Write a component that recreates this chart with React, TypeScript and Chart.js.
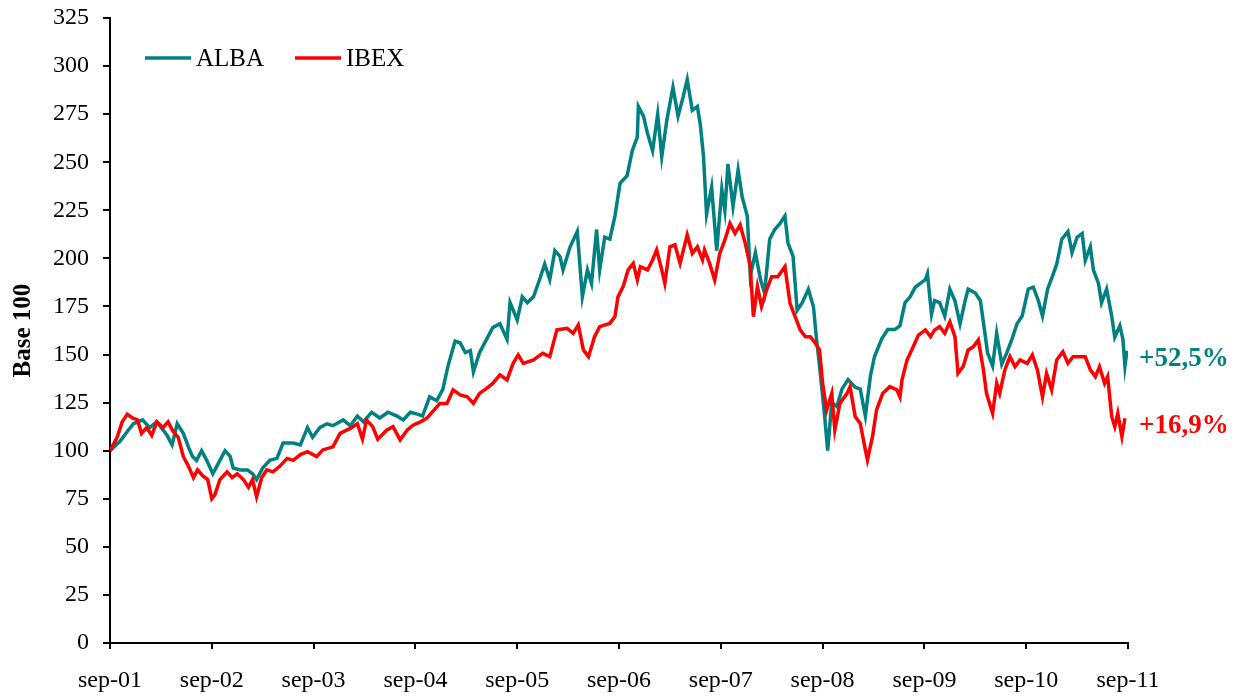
import React, { useEffect, useRef } from 'react';
import { Chart, registerables } from 'chart.js';

Chart.register(...registerables);

// Tick labels for the x axis (one per year, September)
const X_LABELS = ['sep-01', 'sep-02', 'sep-03', 'sep-04', 'sep-05', 'sep-06', 'sep-07', 'sep-08', 'sep-09', 'sep-10', 'sep-11'];
const Y_MIN = 0;
const Y_MAX = 325;
const Y_STEP = 25;
const Y_TITLE = 'Base 100';

const SERIES_NAMES = ['ALBA', 'IBEX'];
const ALBA_COLOR = '#008080';
const IBEX_COLOR = '#FF0000';

// [years since sep-01, index value (base 100)]
const ALBA: Array<[number, number]> = [
  [0.00, 100], [0.10, 105], [0.17, 110], [0.23, 114], [0.32, 116], [0.39, 112], [0.46, 115], [0.56, 108],
  [0.61, 103], [0.66, 114], [0.72, 109], [0.77, 102], [0.81, 97], [0.85, 95], [0.90, 100], [0.95, 95],
  [1.01, 88], [1.08, 95], [1.13, 100], [1.18, 97], [1.21, 91], [1.28, 90], [1.35, 90], [1.40, 88],
  [1.44, 85], [1.50, 91], [1.57, 95], [1.64, 96], [1.70, 104], [1.80, 104], [1.87, 103], [1.94, 112],
  [1.99, 107], [2.06, 112], [2.13, 114], [2.19, 113], [2.29, 116], [2.36, 113], [2.43, 118], [2.49, 115],
  [2.57, 120], [2.65, 117], [2.73, 120], [2.82, 118], [2.88, 116], [2.95, 120], [3.02, 119], [3.07, 118],
  [3.14, 128], [3.21, 126], [3.27, 132], [3.32, 144], [3.39, 157], [3.44, 156], [3.49, 151], [3.54, 152],
  [3.57, 141], [3.63, 151], [3.70, 158], [3.76, 164], [3.83, 166], [3.90, 158], [3.93, 177], [4.00, 168],
  [4.05, 180], [4.10, 177], [4.16, 180], [4.22, 189], [4.27, 197], [4.32, 189], [4.37, 204], [4.42, 201],
  [4.45, 194], [4.52, 206], [4.59, 214], [4.64, 180], [4.69, 194], [4.73, 187], [4.78, 215], [4.81, 194],
  [4.86, 211], [4.91, 210], [4.96, 222], [5.01, 239], [5.08, 243], [5.13, 256], [5.18, 263], [5.19, 279],
  [5.24, 274], [5.28, 265], [5.33, 256], [5.38, 275], [5.42, 253], [5.47, 272], [5.53, 289], [5.58, 274],
  [5.63, 284], [5.67, 293], [5.72, 277], [5.77, 279], [5.80, 269], [5.83, 253], [5.86, 223], [5.91, 237],
  [5.96, 204], [6.01, 236], [6.04, 225], [6.07, 249], [6.12, 227], [6.17, 246], [6.21, 232], [6.26, 222],
  [6.29, 191], [6.34, 203], [6.39, 189], [6.43, 182], [6.48, 210], [6.53, 215], [6.58, 218], [6.63, 222],
  [6.66, 208], [6.71, 201], [6.75, 173], [6.80, 177], [6.86, 184], [6.91, 175], [6.94, 158], [6.97, 144],
  [7.02, 118], [7.05, 100], [7.09, 125], [7.14, 123], [7.19, 132], [7.25, 137], [7.32, 133], [7.37, 132],
  [7.42, 118], [7.47, 139], [7.51, 149], [7.58, 158], [7.64, 163], [7.71, 163], [7.76, 165], [7.81, 177],
  [7.86, 180], [7.91, 185], [7.96, 187], [8.01, 189], [8.03, 192], [8.07, 171], [8.10, 178], [8.15, 177],
  [8.20, 170], [8.25, 184], [8.30, 178], [8.35, 166], [8.40, 178], [8.43, 184], [8.50, 182], [8.55, 178],
  [8.60, 159], [8.62, 151], [8.67, 144], [8.71, 161], [8.76, 145], [8.81, 151], [8.86, 158], [8.91, 166],
  [8.96, 170], [9.02, 184], [9.07, 185], [9.12, 178], [9.16, 170], [9.21, 184], [9.26, 191], [9.30, 197],
  [9.35, 210], [9.41, 214], [9.45, 203], [9.50, 211], [9.55, 213], [9.58, 199], [9.63, 206], [9.66, 194],
  [9.71, 187], [9.74, 177], [9.79, 184], [9.84, 170], [9.87, 159], [9.92, 165], [9.95, 158], [9.97, 144],
  [9.99, 152],
];

const IBEX: Array<[number, number]> = [
  [0.00, 100], [0.07, 107], [0.12, 115], [0.17, 119], [0.22, 117], [0.27, 116], [0.31, 109], [0.36, 112],
  [0.41, 108], [0.46, 115], [0.52, 112], [0.57, 115], [0.62, 110], [0.67, 107], [0.72, 97], [0.77, 92],
  [0.82, 86], [0.86, 90], [0.91, 87], [0.96, 85], [1.00, 75], [1.03, 77], [1.08, 85], [1.15, 89],
  [1.20, 86], [1.25, 88], [1.31, 85], [1.36, 81], [1.40, 85], [1.44, 76], [1.49, 86], [1.54, 90],
  [1.60, 89], [1.67, 92], [1.74, 96], [1.80, 95], [1.87, 98], [1.94, 99.5], [2.03, 96.9], [2.09, 100.4],
  [2.19, 102], [2.26, 109], [2.36, 111.6], [2.43, 114], [2.48, 106], [2.52, 116], [2.58, 112.5], [2.63, 106],
  [2.72, 110.8], [2.78, 112.5], [2.85, 105.6], [2.92, 110.8], [2.98, 113.4], [3.05, 115], [3.11, 116.8], [3.17, 120.3],
  [3.24, 124.6], [3.31, 124.6], [3.37, 131.6], [3.44, 129], [3.51, 128], [3.57, 124.6], [3.63, 129.8], [3.70, 132.4],
  [3.76, 135], [3.83, 139.4], [3.90, 136.8], [3.96, 145.4], [4.01, 149.8], [4.06, 145.4], [4.16, 147.2], [4.25, 150.6],
  [4.32, 148.9], [4.39, 162.8], [4.49, 163.6], [4.55, 161], [4.60, 165.4], [4.65, 152.4], [4.70, 148.9], [4.76, 159.3],
  [4.81, 164.5], [4.91, 166.2], [4.96, 169.7], [4.99, 180], [5.04, 185.3], [5.09, 194], [5.14, 197.4], [5.18, 188.8],
  [5.21, 195.7], [5.28, 194], [5.33, 199.2], [5.37, 204.4], [5.42, 194], [5.45, 187], [5.50, 206], [5.55, 207],
  [5.60, 197.4], [5.67, 212.2], [5.72, 202.6], [5.77, 206], [5.82, 199.2], [5.84, 204.4], [5.89, 197.4], [5.94, 188.8],
  [5.99, 202.6], [6.04, 209.6], [6.09, 218.2], [6.14, 213], [6.19, 217.4], [6.24, 207.8], [6.29, 195.7], [6.32, 169.7],
  [6.36, 185.3], [6.40, 175], [6.45, 183.6], [6.50, 190.5], [6.56, 190.5], [6.63, 195.7], [6.68, 176.6], [6.73, 169.7],
  [6.78, 162.8], [6.83, 159.3], [6.88, 159.3], [6.93, 155.8], [6.97, 152.4], [7.00, 135], [7.04, 121.2], [7.09, 129.8],
  [7.12, 110.8], [7.17, 124.6], [7.24, 129.8], [7.27, 133.3], [7.32, 117.7], [7.37, 114.2], [7.42, 100.4], [7.44, 95.2],
  [7.49, 107.3], [7.53, 121.2], [7.59, 129.8], [7.66, 133.3], [7.73, 131.6], [7.76, 128], [7.78, 136.8], [7.83, 147.2],
  [7.89, 154], [7.94, 160], [8.01, 162.8], [8.06, 159.3], [8.10, 162.8], [8.15, 164.5], [8.20, 161], [8.25, 167],
  [8.30, 159.3], [8.33, 140.2], [8.38, 143.7], [8.43, 152.4], [8.48, 154], [8.53, 157.6], [8.58, 142], [8.61, 129.8],
  [8.64, 124.6], [8.67, 119.4], [8.71, 135], [8.74, 129.8], [8.79, 142], [8.84, 148.9], [8.89, 143.7], [8.94, 147.2],
  [9.01, 145.4], [9.06, 149.8], [9.11, 142], [9.16, 128], [9.20, 140.2], [9.25, 131.6], [9.30, 147.2], [9.36, 151.5],
  [9.41, 145.4], [9.46, 148.9], [9.51, 148.9], [9.58, 148.9], [9.63, 142], [9.68, 138.5], [9.72, 143.7], [9.77, 135],
  [9.80, 138.5], [9.84, 117.7], [9.87, 112.5], [9.90, 119.4], [9.94, 107.3], [9.97, 116.9],
];

const ALBA_CHANGE = '+52,5%';
const IBEX_CHANGE = '+16,9%';
const ALBA_LABEL_AT = 147.5;
const IBEX_LABEL_AT = 113;

const SERIF = '"Liberation Serif", "Times New Roman", serif';

const overlayPlugin = {
  id: 'overlayTexts',
  afterDraw(chart: any) {
    const ctx = chart.ctx as CanvasRenderingContext2D;
    const area = chart.chartArea;
    const yScale = chart.scales.y;
    ctx.save();
    // legend
    const colors = [ALBA_COLOR, IBEX_COLOR];
    const starts = [area.left + 35, area.left + 185];
    const ly = area.top + 40;
    ctx.font = `25px ${SERIF}`;
    ctx.textBaseline = 'middle';
    ctx.textAlign = 'left';
    SERIES_NAMES.forEach((name, i) => {
      ctx.strokeStyle = colors[i];
      ctx.lineWidth = 3.5;
      ctx.beginPath();
      ctx.moveTo(starts[i], ly);
      ctx.lineTo(starts[i] + 46, ly);
      ctx.stroke();
      ctx.fillStyle = '#000';
      ctx.fillText(name, starts[i] + 51, ly + 1);
    });
    // end-of-period changes
    ctx.font = `bold 27px ${SERIF}`;
    ctx.fillStyle = ALBA_COLOR;
    ctx.fillText(ALBA_CHANGE, area.right + 11, yScale.getPixelForValue(ALBA_LABEL_AT));
    ctx.fillStyle = IBEX_COLOR;
    ctx.fillText(IBEX_CHANGE, area.right + 11, yScale.getPixelForValue(IBEX_LABEL_AT));
    ctx.restore();
  },
};

export default function App() {
  const ref = useRef<HTMLCanvasElement>(null);
  useEffect(() => {
    if (!ref.current) return;
    const chart = new Chart(ref.current, {
      type: 'line',
      data: {
        datasets: [
          {
            label: SERIES_NAMES[0],
            data: ALBA.map(([x, y]) => ({ x, y })),
            borderColor: ALBA_COLOR,
            backgroundColor: ALBA_COLOR,
            borderWidth: 3.5,
            pointRadius: 0,
            tension: 0,
            fill: false,
            order: 1,
          },
          {
            label: SERIES_NAMES[1],
            data: IBEX.map(([x, y]) => ({ x, y })),
            borderColor: IBEX_COLOR,
            backgroundColor: IBEX_COLOR,
            borderWidth: 3.5,
            pointRadius: 0,
            tension: 0,
            fill: false,
            order: 0,
          },
        ],
      },
      options: {
        responsive: false,
        animation: false,
        layout: { padding: { left: 0, top: 18, right: 122, bottom: 0 } },
        plugins: { legend: { display: false }, tooltip: { enabled: false } },
        scales: {
          x: {
            type: 'linear',
            min: 0,
            max: X_LABELS.length - 1,
            ticks: {
              stepSize: 1,
              autoSkip: false,
              maxRotation: 0,
              minRotation: 0,
              callback: (v: any) => X_LABELS[Number(v)] ?? '',
              font: { family: SERIF, size: 24 },
              color: '#000',
              padding: 17,
            },
            grid: { drawOnChartArea: false, drawTicks: true, tickLength: 6, color: '#000', lineWidth: 2 },
            border: { color: '#000', width: 2 },
            afterFit: (s: any) => {
              s.height = 54;
              s.paddingLeft = 0;
              s.paddingRight = 0;
            },
          },
          y: {
            min: Y_MIN,
            max: Y_MAX,
            ticks: {
              stepSize: Y_STEP,
              font: { family: SERIF, size: 24 },
              color: '#000',
              padding: 14,
            },
            grid: { drawOnChartArea: false, drawTicks: true, tickLength: 7, color: '#000', lineWidth: 2 },
            border: { color: '#000', width: 2 },
            title: {
              display: true,
              text: Y_TITLE,
              font: { family: SERIF, size: 25, weight: 'bold' },
              color: '#000',
              padding: { top: 9, bottom: 0 },
            },
            afterFit: (s: any) => {
              s.width = 110;
              s.paddingTop = 0;
              s.paddingBottom = 0;
            },
          },
        },
      } as any,
      plugins: [overlayPlugin],
    });
    return () => chart.destroy();
  }, []);
  return (
    <div style={{ position: 'fixed', left: 0, top: 0, width: 1250, height: 697, background: '#fff' }}>
      <canvas ref={ref} width={1250} height={697} style={{ display: 'block' }} />
    </div>
  );
}
